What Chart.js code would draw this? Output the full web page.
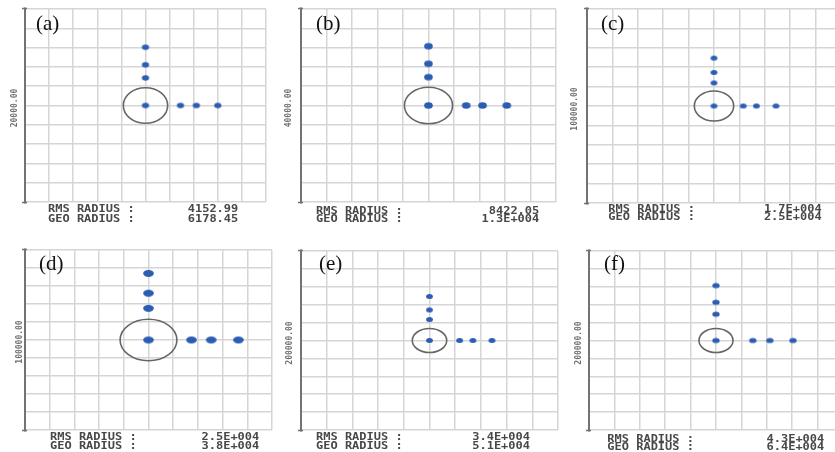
<!DOCTYPE html>
<html>
<head>
<meta charset="utf-8">
<script src="https://cdn.jsdelivr.net/npm/chart.js@4.4.0/dist/chart.umd.min.js"></script>
<style>
  html, body { margin: 0; padding: 0; background: #fff; }
  #stage { position: relative; width: 835px; height: 452px; overflow: hidden; background: #fff; }
  .plot { position: absolute; }
  .tag { position: absolute; font-family: "Liberation Serif", "Times New Roman", serif; font-size: 21px; color: #111; line-height: 1; }
  .scale { position: absolute; font-family: "DejaVu Sans Mono", monospace; font-weight: bold; font-size: 8px; color: #6f6f6f; white-space: nowrap; transform: translate(-50%, -50%) rotate(-90deg); }
  .stat { position: absolute; font-family: "DejaVu Sans Mono", monospace; font-weight: bold; font-size: 12px; color: #484848; line-height: 12px; white-space: pre; }
  .stat.left { transform: translateY(-50%) scaleY(0.82); transform-origin: left center; }
  .stat.right { transform: translate(-100%, -50%) scaleY(0.82); transform-origin: right center; }
</style>
</head>
<body>
<div id="stage"></div>
<script>
// Spot diagram data, one entry per field (a)–(f), lengths in µm
const panelTags   = ['(a)', '(b)', '(c)', '(d)', '(e)', '(f)'];
const scaleBar    = [20000, 40000, 100000, 100000, 200000, 200000];
// spot offsets from the chief ray, going up and going right
const spotsUp     = [[2860, 4220, 6040], [5880, 8640, 12280], [11900, 17300, 24700],
                     [17600, 26000, 37000], [23400, 34200, 49200], [29400, 42800, 61400]];
const spotsRight  = [[2900, 4220, 6000], [5920, 8480, 12280], [11500, 16700, 24400],
                     [17400, 25400, 36400], [23400, 33800, 48600], [29000, 42400, 60600]];
const airyRadius  = [1840, 3780, 7750, 11500, 13400, 13400];
const rmsRadius   = ['4152.99', '8422.05', '1.7E+004', '2.5E+004', '3.4E+004', '4.3E+004'];
const geoRadius   = ['6178.45', '1.3E+004', '2.5E+004', '3.8E+004', '5.1E+004', '6.4E+004'];

// Page layout: plot boxes, dot sizes, text anchors
const plotBox = [
  { left: 25,    top: 9,     width: 240.5, height: 193.4 },
  { left: 300.7, top: 9,     width: 254.6, height: 193.4 },
  { left: 587.3, top: 9,     width: 254,   height: 194   },
  { left: 25,    top: 250,   width: 247,   height: 180   },
  { left: 300.7, top: 250.7, width: 257,   height: 179   },
  { left: 589,   top: 250.7, width: 254,   height: 179   }
];
const dotSize = [[7.2, 5.6], [8.6, 6.4], [6.8, 5], [10.6, 6.8], [6.8, 5], [7.4, 5.2]];
const tagPos = [[36, 13], [316, 13], [601, 13], [39, 253], [319, 253], [604, 253]];
const scalePos = [[13.5, 108], [287.5, 108], [574, 109], [19, 342], [289, 343], [577.5, 343]];
const statPos = [
  { start: 48,    end: 238.3, y1: 209.3, y2: 219 },
  { start: 316,   end: 539.3, y1: 210.5, y2: 219 },
  { start: 608.3, end: 821.7, y1: 209.3, y2: 217 },
  { start: 50,    end: 259.3, y1: 437.3, y2: 446 },
  { start: 316,   end: 530,   y1: 437.3, y2: 445.5 },
  { start: 607.3, end: 824.3, y1: 439,   y2: 446.7 }
];

const PAD = 6;
const stage = document.getElementById('stage');

function dotImage(w, h) {
  const c = document.createElement('canvas');
  c.width = Math.ceil(w) + 2;
  c.height = Math.ceil(h) + 2;
  const g = c.getContext('2d');
  g.fillStyle = '#2c5db3';
  g.beginPath();
  g.ellipse(c.width / 2, c.height / 2, w / 2, h / 2, 0, 0, Math.PI * 2);
  g.fill();
  return c;
}

// Airy disk circle and the left scale bar
const spotDecor = {
  id: 'spotDecor',
  beforeDatasetsDraw(chart, args, opts) {
    const { ctx, chartArea: a, scales: { x, y } } = chart;
    const cx = x.getPixelForValue(0), cy = y.getPixelForValue(0);
    const rx = Math.abs(x.getPixelForValue(opts.airy) - cx);
    const ry = Math.abs(y.getPixelForValue(opts.airy) - cy);
    ctx.save();
    ctx.strokeStyle = '#666';
    ctx.lineWidth = 1.6;
    ctx.beginPath();
    ctx.ellipse(cx, cy, rx, ry, 0, 0, Math.PI * 2);
    ctx.stroke();

    ctx.strokeStyle = '#737373';
    ctx.lineWidth = 2;
    ctx.beginPath();
    ctx.moveTo(a.left, a.top - 1.5);
    ctx.lineTo(a.left, a.bottom + 1.5);
    ctx.stroke();
    ctx.lineWidth = 1.5;
    ctx.beginPath();
    ctx.moveTo(a.left - 3, a.top - 0.5); ctx.lineTo(a.left + 2, a.top - 0.5);
    ctx.moveTo(a.left - 3, a.bottom + 0.5); ctx.lineTo(a.left + 2, a.bottom + 0.5);
    ctx.stroke();
    ctx.restore();
  }
};

function addText(cls, text, left, top) {
  const d = document.createElement('div');
  d.className = cls;
  d.textContent = text;
  d.style.left = left + 'px';
  d.style.top = top + 'px';
  stage.appendChild(d);
  return d;
}

panelTags.forEach((tag, i) => {
  const box = plotBox[i];
  const half = scaleBar[i] / 2;
  const cell = scaleBar[i] / 10;

  const canvas = document.createElement('canvas');
  const cw = Math.round(box.width + PAD * 2), ch = Math.round(box.height + PAD * 2);
  canvas.width = cw; canvas.height = ch;
  canvas.className = 'plot';
  canvas.style.left = (box.left - PAD) + 'px';
  canvas.style.top = (box.top - PAD) + 'px';
  canvas.style.width = cw + 'px';
  canvas.style.height = ch + 'px';
  stage.appendChild(canvas);

  const points = [{ x: 0, y: 0 }]
    .concat(spotsUp[i].map(v => ({ x: 0, y: v })))
    .concat(spotsRight[i].map(v => ({ x: v, y: 0 })));

  const [dw, dh] = dotSize[i];
  const dot = dotImage(dw, dh);

  const axisCfg = {
    type: 'linear',
    min: -half,
    max: half,
    ticks: { display: false, stepSize: cell },
    grid: { color: '#d5d5d5', lineWidth: 1.5, drawTicks: false },
    border: { display: false }
  };

  new Chart(canvas, {
    type: 'scatter',
    data: {
      datasets: [{
        data: points,
        pointStyle: dot,
        pointRadius: 3,
        pointHoverRadius: 3,
        showLine: false
      }]
    },
    options: {
      responsive: false,
      animation: false,
      events: [],
      layout: { padding: PAD },
      scales: { x: axisCfg, y: Object.assign({}, axisCfg) },
      plugins: {
        legend: { display: false },
        tooltip: { enabled: false },
        spotDecor: { airy: airyRadius[i] }
      }
    },
    plugins: [spotDecor]
  });

  addText('tag', tag, tagPos[i][0], tagPos[i][1]);
  addText('scale', scaleBar[i].toFixed(2), scalePos[i][0], scalePos[i][1]);
  const s = statPos[i];
  addText('stat left', 'RMS RADIUS :', s.start, s.y1);
  addText('stat left', 'GEO RADIUS :', s.start, s.y2);
  addText('stat right', rmsRadius[i], s.end, s.y1);
  addText('stat right', geoRadius[i], s.end, s.y2);
});
</script>
</body>
</html>
